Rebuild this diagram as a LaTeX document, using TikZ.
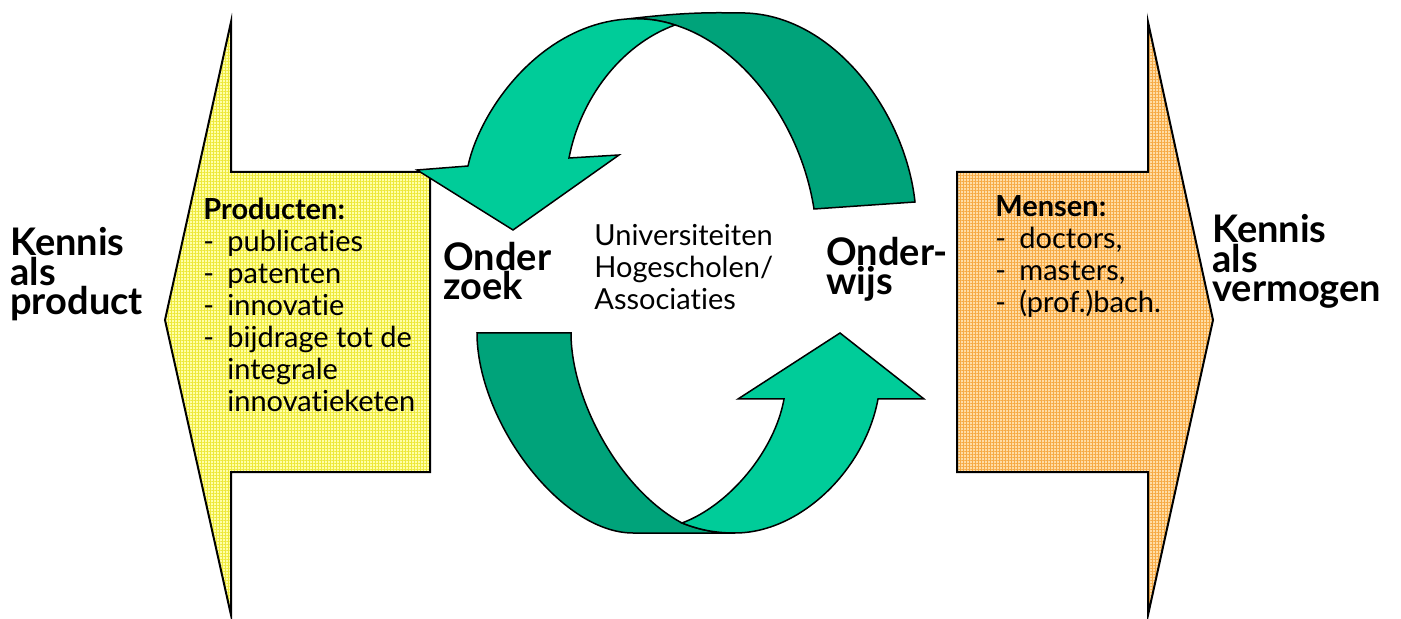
\documentclass[tikz,border=0pt]{standalone}
\usepackage{fontspec}
\setmainfont{Lato}[Ligatures = {NoCommon, NoContextual}]
\usetikzlibrary{patterns.meta}

\definecolor{frontgreen}{HTML}{00CC99}
\definecolor{backgreen}{HTML}{00A37A}
\definecolor{paleyellow}{HTML}{FFFFA8}
\definecolor{gridyellow}{HTML}{EDE83A}
\definecolor{paleorange}{HTML}{FFDDA6}
\definecolor{gridorange}{HTML}{F6AA45}

\newcommand{\dashitem}{\makebox[12pt][l]{-}}
\newcommand{\indentitem}{\hspace*{12pt}}

\tikzset{
    bigarrow/.style = {draw = black, line width = 1pt, line join = miter},
    productarrow/.style = {bigarrow,
        preaction = {fill = paleyellow},
        preaction = {pattern = {Lines[angle = 0, distance = 1.5pt, line width = 0.35pt]}, pattern color = gridyellow},
        pattern = {Lines[angle = 90, distance = 1.5pt, line width = 0.35pt]}, pattern color = gridyellow},
    peoplearrow/.style = {bigarrow,
        preaction = {fill = paleorange},
        preaction = {pattern = {Lines[angle = 0, distance = 1.5pt, line width = 0.35pt]}, pattern color = gridorange},
        pattern = {Lines[angle = 90, distance = 1.5pt, line width = 0.35pt]}, pattern color = gridorange},
    backband/.style = {draw = black, line width = 0.75pt, fill = backgreen},
    frontband/.style = {draw = black, line width = 0.75pt, fill = frontgreen, line join = miter},
    bigbold/.style = {anchor = base west, inner sep = 0pt, align = left,
        font = \bfseries\fontsize{19}{14.75}\selectfont},
    plaintext/.style = {anchor = base west, inner sep = 0pt, align = left,
        font = \fontsize{14.5}{16}\selectfont},
}

\begin{document}
\begin{tikzpicture}[x = 0.5pt, y = -0.5pt]
    \useasboundingbox (0, 0) rectangle (1401, 619);

    \draw[productarrow] (231, 22) -- (231, 172) -- (430, 172) -- (430, 472) -- (231, 472) -- (231, 615) -- (165, 320) -- cycle;
    \draw[peoplearrow] (957, 172) -- (1148, 172) -- (1148, 22) -- (1213, 320) -- (1148, 615) -- (1148, 472) -- (957, 472) -- cycle;

    \draw[backband] (627, 19) .. controls (670, 14) and (700, 12) .. (737, 13)
        .. controls (830, 10) and (905, 110) .. (915, 202) -- (814, 209)
        .. controls (800, 120) and (740, 45) .. (675, 25)
        .. controls (660, 20) and (645, 18) .. (627, 19) -- cycle;
    \draw[frontband] (627, 19) .. controls (540, 25) and (480, 110) .. (468, 166)
        -- (417, 170) -- (513, 230) -- (619, 155) -- (569, 158)
        .. controls (580, 100) and (620, 45) .. (675, 25)
        .. controls (660, 20) and (645, 18) .. (627, 19) -- cycle;

    \draw[backband] (477, 333) -- (571, 333) .. controls (571, 400) and (620, 490) .. (682, 523)
        .. controls (700, 530) and (715, 533) .. (735, 533) -- (633, 533)
        .. controls (560, 533) and (477, 420) .. (477, 333) -- cycle;
    \draw[frontband] (682, 523) .. controls (730, 505) and (775, 450) .. (784, 399)
        -- (738, 399) -- (840, 333) -- (924, 399) -- (878, 399)
        .. controls (865, 470) and (800, 533) .. (735, 533)
        .. controls (715, 533) and (700, 530) .. (682, 523) -- cycle;

    \node[bigbold] (kennisproduct) at (10, 315) {Kennis\\als\\product};
    \node[bigbold] (kennisvermogen) at (1212, 302) {Kennis\\als\\vermogen};
    \node[bigbold] (onderzoek) at (443, 300) {Onder\\zoek};
    \node[bigbold] (onderwijs) at (826, 295) {Onder-\\wijs};
    \node[plaintext] (instellingen) at (594, 310) {Universiteiten\\Hogescholen/\\Associaties};
    \node[plaintext] (producten) at (203, 412) {\textbf{Producten:}\\
        \dashitem publicaties\\ \dashitem patenten\\ \dashitem innovatie\\
        \dashitem bijdrage tot de\\ \indentitem integrale\\ \indentitem innovatieketen};
    \node[plaintext] (mensen) at (995, 313) {\textbf{Mensen:}\\
        \dashitem doctors,\\ \dashitem masters,\\ \dashitem (prof.)bach.};
\end{tikzpicture}
\end{document}
